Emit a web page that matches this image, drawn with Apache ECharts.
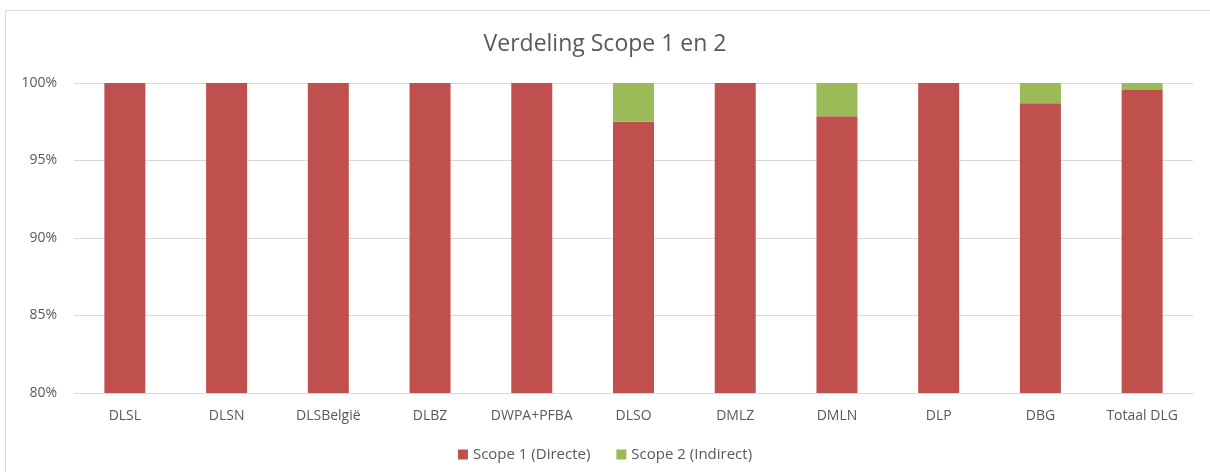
<!DOCTYPE html>
<html><head><meta charset="utf-8">
<script src="https://cdn.jsdelivr.net/npm/echarts@6/dist/echarts.min.js"></script>
<style>html,body{margin:0;padding:0;background:#fff}#c{width:1210px;height:472px}</style>
</head><body><div id="c"></div>
<script>
const categories = ['DLSL','DLSN','DLSBelgië','DLBZ','DWPA+PFBA','DLSO','DMLZ','DMLN','DLP','DBG','Totaal DLG'];
const scope1 = [100,100,100,100,100,97.5,100,97.85,100,98.7,99.55];
const scope2 = [0,0,0,0,0,2.5,0,2.15,0,1.3,0.45];
const yTicks = [80,85,90,95,100];

const chart = echarts.init(document.getElementById('c'), null, {renderer:'canvas'});
const font = '"Open Sans", "Liberation Sans", sans-serif';
chart.setOption({
  animation:false,
  backgroundColor:'#fff',
  title:{text:'Verdeling Scope 1 en 2', left:'center', top:28,
    textStyle:{fontFamily:font, fontSize:23, fontWeight:'normal', color:'#595959'}},
  graphic:[{type:'rect', shape:{x:5.5,y:10.5,width:1220,height:480}, style:{fill:'none', stroke:'#d9d9d9', lineWidth:1}, silent:true}],
  legend:{bottom:5, itemWidth:10, itemHeight:10, itemGap:26, icon:'rect',
    textStyle:{fontFamily:font, fontSize:15, color:'#595959'},
    data:['Scope 1 (Directe)','Scope 2 (Indirect)']},
  grid:{left:74, right:17, top:83, bottom:79, containLabel:false},
  xAxis:{type:'category', data:categories,
    axisLine:{lineStyle:{color:'#d9d9d9'}}, axisTick:{show:false},
    axisLabel:{interval:0, hideOverlap:false, fontFamily:font, fontSize:14, color:'#595959', margin:16}},
  yAxis:{type:'value', min:80, max:100, interval:5,
    axisLine:{show:false}, axisTick:{show:false},
    splitLine:{lineStyle:{color:'#d9d9d9'}},
    axisLabel:{fontFamily:font, fontSize:14, color:'#595959', margin:17, formatter: v => v + '%'}},
  series:[
    {name:'Scope 1 (Directe)', type:'bar', stack:'s', data:scope1, barWidth:41, itemStyle:{color:'#C0504D'}},
    {name:'Scope 2 (Indirect)', type:'bar', stack:'s', data:scope2, barWidth:41, itemStyle:{color:'#9BBB59'}}
  ]
});
</script></body></html>
